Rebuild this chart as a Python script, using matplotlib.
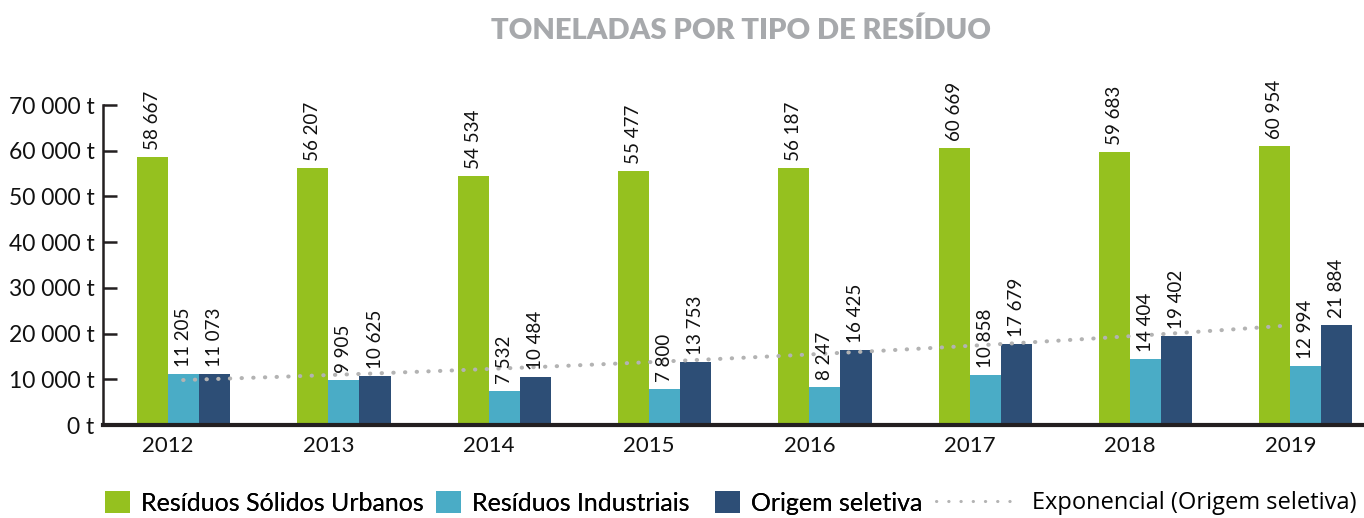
import numpy as np
import matplotlib
matplotlib.use("Agg")
import matplotlib.pyplot as plt
from matplotlib.lines import Line2D
from matplotlib.patches import Patch

years = ["2012", "2013", "2014", "2015", "2016", "2017", "2018", "2019"]
rsu = [58667, 56207, 54534, 55477, 56187, 60669, 59683, 60954]
industriais = [11205, 9905, 7532, 7800, 8247, 10858, 14404, 12994]
seletiva = [11073, 10625, 10484, 13753, 16425, 17679, 19402, 21884]
series_names = ["Resíduos Sólidos Urbanos", "Resíduos Industriais", "Origem seletiva"]
trend_name = "Exponencial (Origem seletiva)"
title = "TONELADAS POR TIPO DE RESÍDUO"

colors = ["#95c11f", "#4aacc6", "#2d4e76"]
FONT = ["Lato", "DejaVu Sans"]
plt.rcParams["font.family"] = FONT

fig = plt.figure(figsize=(13.64, 5.18), dpi=100)
ax = fig.add_axes([103/1364, 1-425/518, 1-103/1364, (425-105)/518])

x = np.arange(len(years))
w = 0.194
for i, (vals, c) in enumerate(zip([rsu, industriais, seletiva], colors)):
    xs = x + (i - 0.5) * w
    ax.bar(xs, vals, width=w, color=c, edgecolor="none", zorder=2)
    for xi, v in zip(xs, vals):
        lab = f"{v:,}".replace(",", " ")
        ax.annotate(lab, (xi, v), xytext=(0, 5), textcoords="offset points",
                    rotation=90, ha="center", va="bottom", fontsize=13.5,
                    color="#111111", zorder=4)

# exponential trendline of Origem seletiva
t = np.arange(1, len(years) + 1)
b, a = np.polyfit(t, np.log(seletiva), 1)
tt = np.linspace(1, len(years), 200)
trend = np.exp(a + b * tt)
tx = np.linspace(x[0] + 0.094, x[-1] - 0.02, 200)
ax.plot(tx, trend, linestyle=(0, (0.1, 2.8)), dash_capstyle="round",
        color="#b3b3b3", linewidth=2.9, zorder=3)

ax.set_xlim(-0.406, 7.46)
ax.set_ylim(0, 70000)
ax.set_yticks(np.arange(0, 70001, 10000))
ax.set_yticklabels([f"{v:,} t".replace(",", " ") for v in range(0, 70001, 10000)])
ax.set_xticks(x)
ax.set_xticklabels(years)
ax.tick_params(axis="y", direction="in", length=10, width=1.8, color="#231f20",
               labelsize=16.5, pad=6, labelcolor="#111111")
ax.tick_params(axis="x", length=0, labelsize=16, pad=8, labelcolor="#111111")
for s in ["top", "right"]:
    ax.spines[s].set_visible(False)
ax.spines["left"].set_color("#231f20")
ax.spines["left"].set_linewidth(1.8)
ax.spines["bottom"].set_color("#231f20")
ax.spines["bottom"].set_linewidth(3)

fig.text(0.543, 0.94, title, ha="center", va="center", fontsize=21,
         fontweight="heavy", color="#a7a9ac")

# legend: one entry per legend so each can be placed like the reference
lx = [105, 436, 715]
for name, c, px in zip(series_names, colors, lx):
    lg = fig.legend([Patch(facecolor=c, edgecolor="none")], [name],
                    loc="center left", bbox_to_anchor=(px/1364, 0.029),
                    frameon=False, fontsize=18, handlelength=1.0,
                    handleheight=1.0, handletextpad=0.45, borderpad=0,
                    borderaxespad=0)
    fig.add_artist(lg)
trend_handle = Line2D([0], [0], linestyle=(0, (0.1, 3.9)), dash_capstyle="round",
                      color="#b3b3b3", linewidth=2.2)
fig.legend([trend_handle], [trend_name], loc="center left",
           bbox_to_anchor=(936/1364, 0.029), frameon=False,
           prop={"family": ["Open Sans", "DejaVu Sans"], "size": 17},
           handlelength=3.2, handletextpad=0.85,
           borderpad=0, borderaxespad=0)

fig.savefig("out.png", dpi=100)
